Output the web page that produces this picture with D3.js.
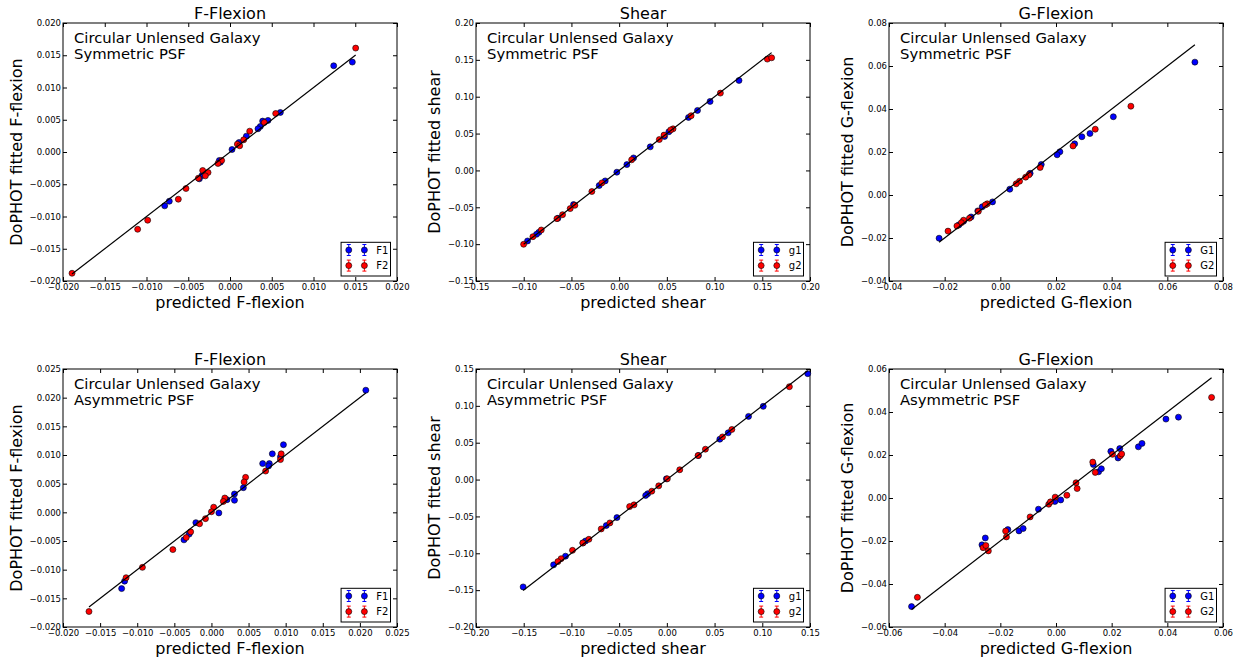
<!DOCTYPE html>
<html>
<head>
<meta charset="utf-8">
<script src="https://cdn.jsdelivr.net/npm/d3@7"></script>
<style>
  body { margin: 0; background: #fff; }
  text { font-family: 'DejaVu Sans', sans-serif; }
</style>
</head>
<body>
<div id="chart"></div>
<script>
// [predicted, fitted] pairs

// top row: symmetric PSF
const fflexSymF1 = [[0.01242, 0.01337], [0.01465, 0.01394], [0.00603, 0.00613], [0.00455, 0.0049], [0.00391, 0.00479], [0.00363, 0.00396], [0.00335, 0.0036], [0.00196, 0.00246], [0.00108, 0.00147], [0.00024, 0.00039], [-0.00116, -0.00158], [-0.00128, -0.00132], [-0.00335, -0.00365], [-0.00367, -0.00416], [-0.00727, -0.00763], [-0.00782, -0.00835]]
const fflexSymF2 = [[0.01505, 0.01611], [0.00547, 0.00597], [0.00411, 0.00458], [0.00236, 0.00323], [0.00164, 0.00189], [0.00088, 0.00122], [0.00116, 0.00096], [-0.001, -0.00132], [-0.00144, -0.00178], [-0.00327, -0.00287], [-0.00263, -0.00318], [-0.00295, -0.0037], [-0.00379, -0.00406], [-0.00527, -0.00566], [-0.00619, -0.00732], [-0.00986, -0.01058], [-0.01106, -0.01198], [-0.01892, -0.0188]]

const shearSymG1 = [[0.1256, 0.1221], [0.0953, 0.0936], [0.0821, 0.0814], [0.0727, 0.0719], [0.0521, 0.0524], [0.0476, 0.0461], [0.0326, 0.032], [0.0151, 0.017], [0.0081, 0.0079], [-0.0024, -0.0024], [-0.0146, -0.0142], [-0.0209, -0.0205], [-0.0478, -0.0463], [-0.0642, -0.0649], [-0.0841, -0.084], [-0.0866, -0.0867], [-0.096, -0.0957]]
const shearSymG2 = [[0.1553, 0.151], [0.1598, 0.1528], [0.1061, 0.1049], [0.0754, 0.0742], [0.0565, 0.0564], [0.054, 0.055], [0.047, 0.0479], [0.0421, 0.0419], [0.0131, 0.0144], [-0.0181, -0.0169], [-0.0286, -0.0286], [-0.0464, -0.0473], [-0.0513, -0.0518], [-0.0593, -0.06], [-0.0652, -0.0654], [-0.0816, -0.0808], [-0.0904, -0.0899], [-0.1001, -0.1002]]

const gflexSymG1 = [[0.0699, 0.0618], [0.0406, 0.0364], [0.0322, 0.0286], [0.0293, 0.0271], [0.0267, 0.0238], [0.0214, 0.0201], [0.0204, 0.0187], [0.0147, 0.0142], [0.0107, 0.0101], [0.0034, 0.0027], [-0.0028, -0.0032], [-0.0065, -0.0055], [-0.0081, -0.0074], [-0.0105, -0.0102], [-0.0132, -0.0122], [-0.0149, -0.0139], [-0.022, -0.0201]]
const gflexSymG2 = [[0.0469, 0.0413], [0.0341, 0.0306], [0.0261, 0.0228], [0.0143, 0.0128], [0.0103, 0.0094], [0.0091, 0.0083], [0.0069, 0.0064], [0.0057, 0.0052], [-0.0047, -0.0041], [-0.0054, -0.0046], [-0.0079, -0.0076], [-0.0111, -0.0108], [-0.0132, -0.0117], [-0.014, -0.0129], [-0.0156, -0.0144], [-0.0188, -0.0168]]

// bottom row: asymmetric PSF
const fflexAsymF1 = [[0.0208, 0.0213], [0.0097, 0.0118], [0.0082, 0.0102], [0.0069, 0.0085], [0.0078, 0.0085], [0.0077, 0.0081], [0.0093, 0.0097], [0.0043, 0.0043], [0.0031, 0.0032], [0.0031, 0.0021], [0.0021, 0.0022], [0.001, -0.0001], [-0.0021, -0.0018], [-0.003, -0.0038], [-0.0037, -0.0048], [-0.0117, -0.012], [-0.0121, -0.0133]]
const fflexAsymF2 = [[0.0094, 0.0102], [0.0093, 0.0092], [0.0073, 0.0072], [0.0046, 0.0061], [0.0044, 0.0053], [0.0018, 0.0025], [0.0016, 0.0019], [0.0003, 0.0009], [0.0, 0.0001], [-0.0008, -0.0011], [-0.0016, -0.002], [-0.0028, -0.0034], [-0.0034, -0.0044], [-0.0052, -0.0065], [-0.0093, -0.0096], [-0.0115, -0.0114], [-0.0165, -0.0173]]

const shearAsymG1 = [[0.1476, 0.1437], [0.101, 0.0993], [0.0856, 0.0857], [0.0643, 0.0634], [0.0555, 0.0548], [0.0331, 0.0326], [-0.0005, 0.001], [-0.0201, -0.0192], [-0.0222, -0.0215], [-0.0523, -0.0516], [-0.0635, -0.0624], [-0.0852, -0.0833], [-0.088, -0.086], [-0.1062, -0.1039], [-0.1187, -0.1157], [-0.1506, -0.1456]]
const shearAsymG2 = [[0.1284, 0.126], [0.0681, 0.068], [0.0583, 0.0579], [0.0404, 0.0412], [0.0327, 0.0326], [0.0135, 0.0133], [0.0005, 0.001], [-0.0085, -0.0085], [-0.0158, -0.0158], [-0.0344, -0.0343], [-0.039, -0.0366], [-0.0597, -0.0588], [-0.0688, -0.067], [-0.0817, -0.081], [-0.088, -0.086], [-0.0989, -0.096], [-0.1108, -0.1073], [-0.1142, -0.1113]]

const gflexAsymG1 = [[-0.0519, -0.0505], [-0.0254, -0.0186], [-0.0266, -0.0218], [-0.0173, -0.0147], [-0.0133, -0.0153], [-0.0118, -0.0142], [-0.0063, -0.0052], [-0.0004, -0.0016], [0.0017, -0.0009], [0.0134, 0.0156], [0.0153, 0.0122], [0.0163, 0.0136], [0.0197, 0.0217], [0.0223, 0.0186], [0.0229, 0.023], [0.0296, 0.0238], [0.0309, 0.0254], [0.0395, 0.0367], [0.044, 0.0376]]
const gflexAsymG2 = [[-0.0498, -0.0462], [-0.0262, -0.0231], [-0.0252, -0.0221], [-0.0243, -0.0246], [-0.0181, -0.0154], [-0.0178, -0.0181], [-0.0093, -0.0088], [-0.0026, -0.0029], [-0.002, -0.0018], [-0.0003, 0.0004], [0.0039, 0.0013], [0.0072, 0.0071], [0.0076, 0.0044], [0.0132, 0.0167], [0.0141, 0.0119], [0.0203, 0.0203], [0.0231, 0.0196], [0.0236, 0.0205], [0.0559, 0.0468]]

const titles = ['F-Flexion', 'Shear', 'G-Flexion', 'F-Flexion', 'Shear', 'G-Flexion']
const quantities = ['F-flexion', 'shear', 'G-flexion', 'F-flexion', 'shear', 'G-flexion']
const psfLabels = ['Symmetric PSF', 'Symmetric PSF', 'Symmetric PSF', 'Asymmetric PSF', 'Asymmetric PSF', 'Asymmetric PSF']
const seriesNames = [['F1', 'F2'], ['g1', 'g2'], ['G1', 'G2'], ['F1', 'F2'], ['g1', 'g2'], ['G1', 'G2']]
const domains = [[-0.02, 0.02], [-0.15, 0.2], [-0.04, 0.08], [-0.02, 0.025], [-0.2, 0.15], [-0.06, 0.06]]
const tickSteps = [0.005, 0.05, 0.02, 0.005, 0.05, 0.02]
const tickFormats = ['.3f', '.2f', '.2f', '.3f', '.2f', '.2f']
const seriesData = [
  [fflexSymF1, fflexSymF2], [shearSymG1, shearSymG2], [gflexSymG1, gflexSymG2],
  [fflexAsymF1, fflexAsymF2], [shearAsymG1, shearAsymG2], [gflexAsymG1, gflexAsymG2]
]
const colors = ['#0000ff', '#ff0000']

const W = 1242
const H = 660
const plotW = 334
const plotH = 258
const lefts = [63, 476, 889]
const tops = [23, 369]

const svg = d3
  .select('#chart')
  .append('svg')
  .attr('width', W)
  .attr('height', H)

titles.forEach(function(title, i) {
  const left = lefts[i % 3]
  const top = tops[Math.floor(i / 3)]
  const g = svg.append('g').attr('transform', `translate(${left},${top})`)

  const [d0, d1] = domains[i]
  const step = tickSteps[i]
  const ticks = d3.range(0, Math.round((d1 - d0) / step) + 1).map(k => d0 + k * step)
  const fmt = d3.format(tickFormats[i])

  const x = d3.scaleLinear().domain(domains[i]).range([0, plotW])
  const y = d3.scaleLinear().domain(domains[i]).range([plotH, 0])

  // axes with inward ticks on all four sides
  const styleAxis = sel => {
    sel.select('.domain').remove()
    sel.selectAll('text').style('font-family', "'DejaVu Sans', sans-serif").style('font-size', '8.5px').attr('fill', '#000')
    sel.selectAll('line').attr('stroke', '#000')
  }

  g.append('g')
    .attr('transform', `translate(0,${plotH})`)
    .call(d3.axisBottom(x).tickValues(ticks).tickFormat(fmt).tickSize(-4).tickSizeOuter(0).tickPadding(3))
    .call(styleAxis)

  const yAxisG = g.append('g')
    .call(d3.axisLeft(y).tickValues(ticks).tickFormat(fmt).tickSize(-4).tickSizeOuter(0).tickPadding(2))
    .call(styleAxis)

  g.append('g')
    .call(d3.axisTop(x).tickValues(ticks).tickFormat('').tickSize(-4).tickSizeOuter(0))
    .call(styleAxis)

  g.append('g')
    .attr('transform', `translate(${plotW},0)`)
    .call(d3.axisRight(y).tickValues(ticks).tickFormat('').tickSize(-4).tickSizeOuter(0))
    .call(styleAxis)

  g.append('rect')
    .attr('width', plotW)
    .attr('height', plotH)
    .attr('fill', 'none')
    .attr('stroke', '#000')
    .attr('stroke-width', 1)

  // points
  seriesData[i].forEach(function(series, s) {
    g.selectAll('.pt' + s)
      .data(series)
      .enter()
      .append('circle')
      .attr('class', 'pt' + s)
      .attr('cx', d => x(d[0]))
      .attr('cy', d => y(d[1]))
      .attr('r', 3)
      .attr('fill', colors[s])
      .attr('stroke', '#000')
      .attr('stroke-width', 0.6)
  })

  // one-to-one line over the predicted range
  const allX = seriesData[i][0].concat(seriesData[i][1]).map(d => d[0])
  const ext = d3.extent(allX)
  g.append('path')
    .datum([ext[0], ext[1]])
    .attr('d', d3.line().x(v => x(v)).y(v => y(v)))
    .attr('stroke', '#000')
    .attr('stroke-width', 1.2)
    .attr('fill', 'none')

  // title and axis labels
  g.append('text')
    .text(title)
    .attr('x', plotW / 2)
    .attr('y', -4)
    .attr('text-anchor', 'middle')
    .style('font-size', '16px')

  g.append('text')
    .text('predicted ' + quantities[i])
    .attr('x', plotW / 2)
    .attr('y', plotH + 27)
    .attr('text-anchor', 'middle')
    .style('font-size', '16px')

  const labelBox = yAxisG.node().getBBox()
  g.append('text')
    .text('DoPHOT fitted ' + quantities[i])
    .attr('transform', `translate(${labelBox.x - 8},${plotH / 2}) rotate(-90)`)
    .attr('text-anchor', 'middle')
    .style('font-size', '16px')

  g.append('text')
    .text('Circular Unlensed Galaxy')
    .attr('x', 11)
    .attr('y', 19.5)
    .style('font-size', '14.8px')

  g.append('text')
    .text(psfLabels[i])
    .attr('x', 11)
    .attr('y', 35.5)
    .style('font-size', '14.8px')

  // legend
  const legend = g.append('g')
  const box = legend.append('rect')
    .attr('fill', '#fff')
    .attr('stroke', '#000')
    .attr('stroke-width', 1)

  let maxW = 0
  seriesNames[i].forEach(function(name, s) {
    const row = legend.append('g').attr('transform', `translate(0,${7.7 + s * 15.6})`)
    ;[7.7, 23.3].forEach(function(mx) {
      row.append('line')
        .attr('x1', mx).attr('x2', mx).attr('y1', -5.5).attr('y2', 5.5)
        .attr('stroke', colors[s]).attr('stroke-width', 1)
      ;[-5.5, 5.5].forEach(function(cy) {
        row.append('line')
          .attr('x1', mx - 2).attr('x2', mx + 2).attr('y1', cy).attr('y2', cy)
          .attr('stroke', colors[s]).attr('stroke-width', 1)
      })
      row.append('circle')
        .attr('cx', mx)
        .attr('r', 3)
        .attr('fill', colors[s])
        .attr('stroke', '#000')
        .attr('stroke-width', 0.6)
    })
    const t = row.append('text')
      .text(name)
      .attr('x', 35.3)
      .attr('y', 3.6)
      .style('font-size', '10px')
    maxW = Math.max(maxW, t.node().getComputedTextLength())
  })

  const boxW = 35.3 + maxW + 2
  const boxH = 33.7
  box.attr('width', boxW).attr('height', boxH)
  legend.attr('transform', `translate(${plotW - 6.5 - boxW},${plotH - 5 - boxH})`)
})
</script>
</body>
</html>
